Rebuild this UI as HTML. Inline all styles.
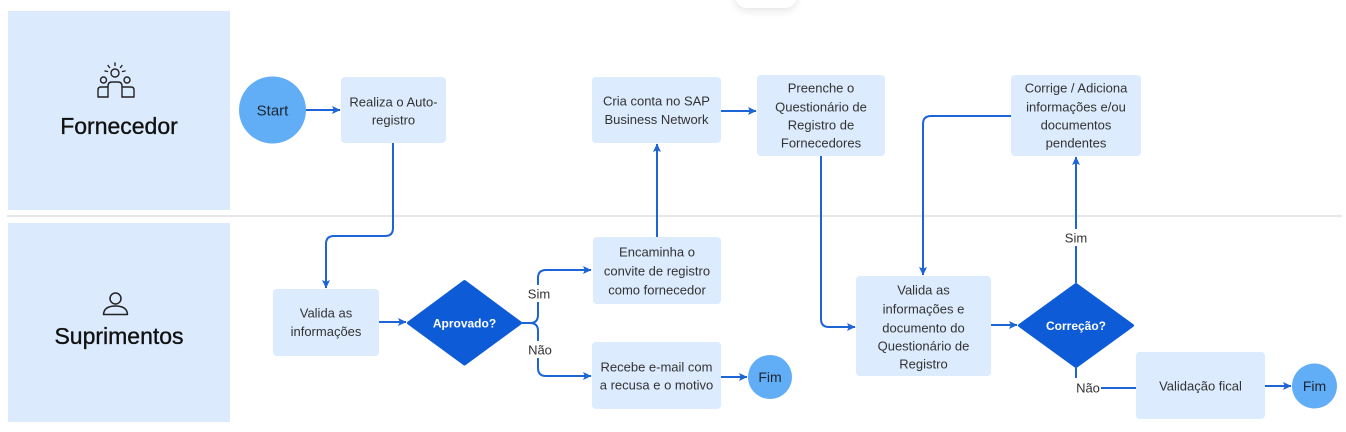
<!DOCTYPE html>
<html>
<head>
<meta charset="utf-8">
<style>
  html,body{margin:0;padding:0;background:#fff;}
  body{width:1346px;height:432px;overflow:hidden;position:relative;font-family:"Liberation Sans",sans-serif;}
  .tab{position:absolute;left:735px;top:-30px;width:62px;height:38px;background:#fff;border-radius:12px;box-shadow:0 3px 8px rgba(0,0,0,0.10);}
  svg{position:absolute;left:0;top:0;}
  text{font-family:"Liberation Sans",sans-serif;}
  .t{font-size:13px;fill:#333;text-anchor:middle;}
  .lane{font-size:23px;fill:#111;text-anchor:middle;stroke:#111;stroke-width:0.35px;}
  .dt{font-size:12px;fill:#fff;font-weight:bold;text-anchor:middle;}
  .ln{fill:none;stroke:#1d64d6;stroke-width:2;}
</style>
</head>
<body>
<div class="tab"></div>
<svg width="1346" height="432" viewBox="0 0 1346 432" xmlns="http://www.w3.org/2000/svg">
  <defs>
    <marker id="ah" markerUnits="userSpaceOnUse" markerWidth="10" markerHeight="10" refX="8" refY="4.5" orient="auto">
      <path d="M0,0.5 L8.5,4.5 L0,8.5 L1.8,4.5 z" fill="#1d64d6"/>
    </marker>
  </defs>

  <!-- lanes -->
  <rect x="8" y="11" width="222" height="199" fill="#dbeafd"/>
  <rect x="8" y="223" width="222" height="199" fill="#dbeafd"/>
  <line x1="7" y1="216" x2="1342" y2="216" stroke="#dedede" stroke-width="1.5"/>

  <!-- Fornecedor icon -->
  <g fill="none" stroke="#222" stroke-width="1.4" stroke-linecap="round" stroke-linejoin="round">
    <circle cx="115" cy="73" r="4"/>
    <circle cx="103.5" cy="80" r="3"/>
    <circle cx="127" cy="80" r="3"/>
    <path d="M108,97 V86 Q108,82 112,82 H118 Q122,82 122,86 V97"/>
    <path d="M108,97 H98 V90 Q98,87 101,87 H108"/>
    <path d="M122,97 H134 V90 Q134,87 131,87 H122"/>
    <line x1="115" y1="63" x2="115" y2="65.5"/>
    <line x1="108" y1="65.5" x2="109.5" y2="67.5"/>
    <line x1="122" y1="65.5" x2="120.5" y2="67.5"/>
    <line x1="105" y1="71" x2="107.5" y2="71.5"/>
    <line x1="125" y1="71" x2="122.5" y2="71.5"/>
  </g>
  <text class="lane" x="119" y="134">Fornecedor</text>

  <!-- Suprimentos icon -->
  <g fill="none" stroke="#222" stroke-width="1.5" stroke-linecap="round" stroke-linejoin="round">
    <circle cx="115.5" cy="298.5" r="5.5"/>
    <path d="M103.5,314.5 Q104,306 115.5,306 Q127,306 127.5,314.5 Z"/>
  </g>
  <text class="lane" x="119" y="344">Suprimentos</text>

  <!-- connectors -->
  <path class="ln" d="M306,110 H340" marker-end="url(#ah)"/>
  <path class="ln" d="M393,143 V228 Q393,236 385,236 H334 Q326,236 326,244 V288" marker-end="url(#ah)"/>
  <path class="ln" d="M379,322 H406" marker-end="url(#ah)"/>
  <path class="ln" d="M522,323 H530 Q538,323 538,315 V278 Q538,270 546,270 H591" marker-end="url(#ah)"/>
  <path class="ln" d="M530,323 Q538,323 538,331 V368 Q538,376 546,376 H591" marker-end="url(#ah)"/>
  <path class="ln" d="M721,377 H747" marker-end="url(#ah)"/>
  <path class="ln" d="M657,237 V144" marker-end="url(#ah)"/>
  <path class="ln" d="M721,111 H756" marker-end="url(#ah)"/>
  <path class="ln" d="M821,156 V319 Q821,327 829,327 H855" marker-end="url(#ah)"/>
  <path class="ln" d="M991,325 H1017" marker-end="url(#ah)"/>
  <path class="ln" d="M1076,283 V157" marker-end="url(#ah)"/>
  <path class="ln" d="M1011,116 H931 Q923,116 923,124 V275" marker-end="url(#ah)"/>
  <path class="ln" d="M1076,368 V378"/>
  <path class="ln" d="M1101,388 H1136"/>
  <path class="ln" d="M1265,386 H1291" marker-end="url(#ah)"/>

  <!-- labels on connectors -->
  <rect x="526" y="285" width="26" height="17" fill="#fff"/>
  <text class="t" x="539" y="298.5">Sim</text>
  <rect x="526" y="341" width="28" height="17" fill="#fff"/>
  <text class="t" x="540" y="354.5">Não</text>
  <rect x="1063" y="229" width="26" height="17" fill="#fff"/>
  <text class="t" x="1076" y="242.5">Sim</text>
  <text class="t" x="1088" y="392.5">Não</text>

  <!-- Start -->
  <circle cx="272.5" cy="110" r="33.5" fill="#62aef6"/>
  <text x="272.5" y="115.5" font-size="15" fill="#1c2633" text-anchor="middle">Start</text>

  <!-- boxes -->
  <rect x="341" y="77" width="105" height="66" rx="4" fill="#dcebfd"/>
  <text class="t" x="393.5" y="106.5">Realiza o Auto-</text>
  <text class="t" x="393.5" y="124.5">registro</text>

  <rect x="273" y="289" width="106" height="67" rx="4" fill="#dcebfd"/>
  <text class="t" x="326" y="317.5">Valida as</text>
  <text class="t" x="326" y="336">informações</text>

  <rect x="593" y="237" width="128" height="67" rx="4" fill="#dcebfd"/>
  <text class="t" x="657" y="256.5">Encaminha o</text>
  <text class="t" x="657" y="275.5">convite de registro</text>
  <text class="t" x="657" y="294.5">como fornecedor</text>

  <rect x="592" y="342" width="129" height="67" rx="4" fill="#dcebfd"/>
  <text class="t" x="656.5" y="371.5">Recebe e-mail com</text>
  <text class="t" x="656.5" y="389.5">a recusa e o motivo</text>

  <rect x="592" y="77" width="129" height="66" rx="4" fill="#dcebfd"/>
  <text class="t" x="656.5" y="105.5">Cria conta no SAP</text>
  <text class="t" x="656.5" y="124">Business Network</text>

  <rect x="757" y="75" width="128" height="81" rx="4" fill="#dcebfd"/>
  <text class="t" x="821" y="92.5">Preenche o</text>
  <text class="t" x="821" y="111.5">Questionário de</text>
  <text class="t" x="821" y="129.5">Registro de</text>
  <text class="t" x="821" y="147.5">Fornecedores</text>

  <rect x="856" y="276" width="135" height="100" rx="4" fill="#dcebfd"/>
  <text class="t" x="923.5" y="294.5">Valida as</text>
  <text class="t" x="923.5" y="313.5">informações e</text>
  <text class="t" x="923.5" y="332.5">documento do</text>
  <text class="t" x="923.5" y="350.5">Questionário de</text>
  <text class="t" x="923.5" y="368.5">Registro</text>

  <rect x="1011" y="75" width="130" height="81" rx="4" fill="#dcebfd"/>
  <text class="t" x="1076" y="92.5">Corrige / Adiciona</text>
  <text class="t" x="1076" y="111.5">informações e/ou</text>
  <text class="t" x="1076" y="129.5">documentos</text>
  <text class="t" x="1076" y="147.5">pendentes</text>

  <rect x="1136" y="352" width="129" height="67" rx="4" fill="#dcebfd"/>
  <text class="t" x="1200.5" y="390.5">Validação fical</text>

  <!-- diamonds -->
  <path d="M464.5,281.5 L520.5,323 L464.5,364 L408.5,323 Z" fill="#0d5bd7" stroke="#0d5bd7" stroke-width="3" stroke-linejoin="round"/>
  <text class="dt" x="464.5" y="327.5">Aprovado?</text>

  <path d="M1076,284.5 L1132.5,325.5 L1076,366.5 L1019.5,325.5 Z" fill="#0d5bd7" stroke="#0d5bd7" stroke-width="3" stroke-linejoin="round"/>
  <text class="dt" x="1076" y="330">Correção?</text>

  <!-- Fim circles -->
  <circle cx="770" cy="377" r="22" fill="#62aef6"/>
  <text x="770" y="382" font-size="14" fill="#1c2633" text-anchor="middle">Fim</text>
  <circle cx="1314.5" cy="386" r="22.5" fill="#62aef6"/>
  <text x="1314.5" y="391" font-size="14" fill="#1c2633" text-anchor="middle">Fim</text>
</svg>
</body>
</html>
